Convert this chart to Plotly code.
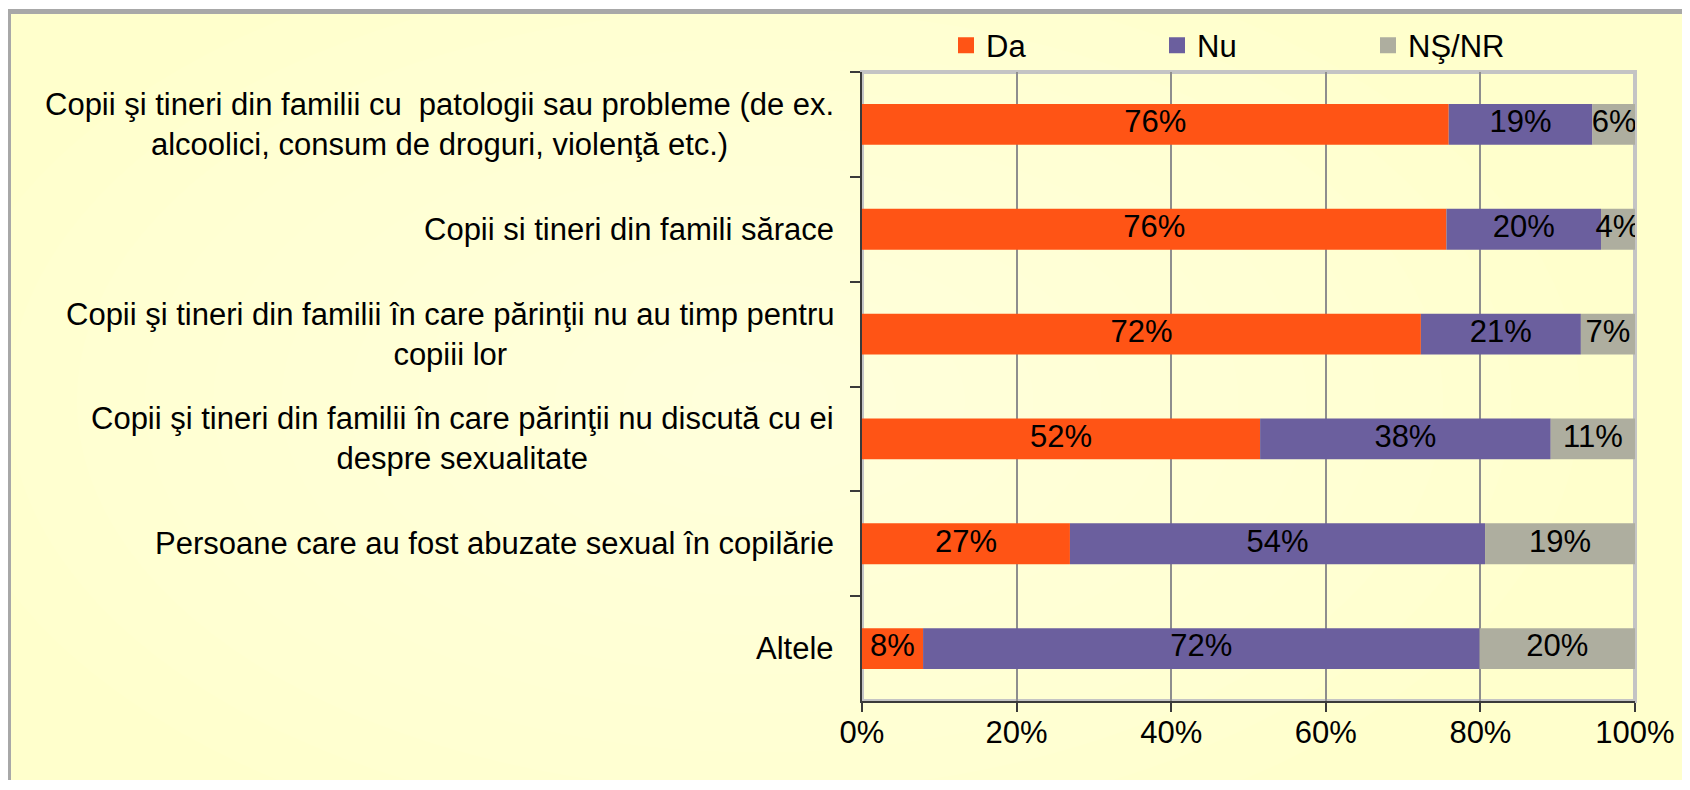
import plotly.graph_objects as go

categories = [
    "Copii şi tineri din familii cu  patologii sau probleme (de ex.<br>alcoolici, consum de droguri, violenţă etc.)",
    "Copii si tineri din famili sărace",
    "Copii şi tineri din familii în care părinţii nu au timp pentru<br>copiii lor",
    "Copii şi tineri din familii în care părinţii nu discută cu ei<br>despre sexualitate",
    "Persoane care au fost abuzate sexual în copilărie",
    "Altele",
]
series_names = ["Da", "Nu", "NŞ/NR"]
da = [75.9, 75.6, 72.3, 51.5, 26.9, 7.9]
nu = [18.6, 20.0, 20.7, 37.6, 53.7, 72.0]
nsnr = [5.6, 4.4, 7.0, 10.9, 19.4, 20.1]
x_ticks = [0, 20, 40, 60, 80, 100]
x_tick_labels = ["0%", "20%", "40%", "60%", "80%", "100%"]

colors = ["#FF5415", "#6B5F9E", "#AEAE9F"]
FONT = "Liberation Sans, Arial, sans-serif"
FS = 31

# the page body adds an 8px margin; figure coordinates = screen - 8
OFF = 8
W, H = 1690, 772
L, R, T, B = 862 - OFF, 1635 - OFF, 71 - OFF, 701 - OFF


def px_x(p):  # screen px -> paper
    return (p - OFF - L) / (R - L)


def px_y(p):
    return (B - (p - OFF)) / (B - T)


fig = go.Figure()
series = [da, nu, nsnr]
base = [0.0] * len(categories)
for name, vals, col in zip(series_names, series, colors):
    fig.add_trace(go.Bar(
        y=categories, x=vals, base=base, orientation="h", name=name,
        marker=dict(color=col, line=dict(width=0)), showlegend=False,
        hoverinfo="x+y",
    ))
    mids = [b + v / 2 for b, v in zip(base, vals)]
    fig.add_trace(go.Scatter(
        y=categories, x=mids, mode="text", text=[f"{v:.0f}%" for v in vals],
        textfont=dict(size=FS, color="#000000", family=FONT),
        showlegend=False, hoverinfo="skip",
    ))
    base = [b + v for b, v in zip(base, vals)]

# legend entries
for name, col in zip(series_names, colors):
    fig.add_trace(go.Scatter(
        x=[None], y=[None], mode="markers", name=name,
        marker=dict(symbol="square", size=16, color=col),
    ))

shapes = [
    dict(type="rect", xref="paper", yref="paper", layer="below",
         x0=px_x(8.5), x1=px_x(1760), y0=px_y(860), y1=px_y(10.5),
         fillcolor="#FFFFCC", line=dict(width=0)),
]
cx, cy = 760, 400
n = 12
for i in range(n):
    f = 1 - i / n
    rx, ry = 820 * f, 470 * f
    shapes.append(dict(type="circle", xref="paper", yref="paper", layer="below",
                       x0=px_x(cx - rx), x1=px_x(cx + rx), y0=px_y(cy + ry), y1=px_y(cy - ry),
                       fillcolor="rgba(255,255,255,0.045)", line=dict(width=0)))
shapes.append(dict(type="line", xref="paper", yref="paper", layer="below",
                   x0=px_x(6), x1=px_x(1760), y0=px_y(10.5), y1=px_y(10.5),
                   line=dict(color="#A8A8A8", width=5)))
shapes.append(dict(type="line", xref="paper", yref="paper", layer="below",
                   x0=px_x(8.5), x1=px_x(8.5), y0=px_y(8), y1=px_y(860),
                   line=dict(color="#A8A8A8", width=5)))
shapes.append(dict(type="rect", xref="paper", yref="paper", layer="below",
                   x0=0, x1=1, y0=0, y1=1, line=dict(color="#C4C4C4", width=4),
                   fillcolor="rgba(0,0,0,0)"))

annotations = []
for c in categories:
    annotations.append(dict(
        x=px_x(836), xref="paper", y=c, yref="y", text=c, showarrow=False,
        xanchor="right", yanchor="middle", align="center",
        font=dict(size=FS, family=FONT, color="#000000"),
    ))

fig.update_layout(
    width=W, height=H,
    margin=dict(l=L, r=W - R, t=T, b=H - B, pad=0),
    paper_bgcolor="#FFFFFF",
    plot_bgcolor="rgba(0,0,0,0)",
    barmode="overlay",
    bargap=0.61,
    font=dict(family=FONT, size=FS, color="#000000"),
    shapes=shapes,
    annotations=annotations,
    showlegend=True,
    legend=dict(orientation="h", x=px_x(946), xanchor="left", y=px_y(45.5), yanchor="middle",
                bgcolor="rgba(0,0,0,0)", font=dict(size=FS, family=FONT),
                entrywidth=166, entrywidthmode="pixels", itemsizing="trace"),
    xaxis=dict(range=[0, 100], tickvals=x_ticks, ticktext=x_tick_labels,
               showgrid=True, gridcolor="#8E8E8E", gridwidth=2,
               showline=True, linecolor="#3A3A3A", linewidth=1.5,
               ticks="outside", ticklen=9, tickcolor="#3A3A3A", tickwidth=1.5,
               ticklabelstandoff=-6,
               zeroline=False, fixedrange=True,
               tickfont=dict(size=FS, family=FONT)),
    yaxis=dict(autorange="reversed", showgrid=False, showline=True,
               linecolor="#3A3A3A", linewidth=1.5,
               ticks="outside", ticklen=10, tickcolor="#3A3A3A", tickwidth=1.5,
               tickson="boundaries", zeroline=False, showticklabels=False),
)

fig.write_html("out.html")
